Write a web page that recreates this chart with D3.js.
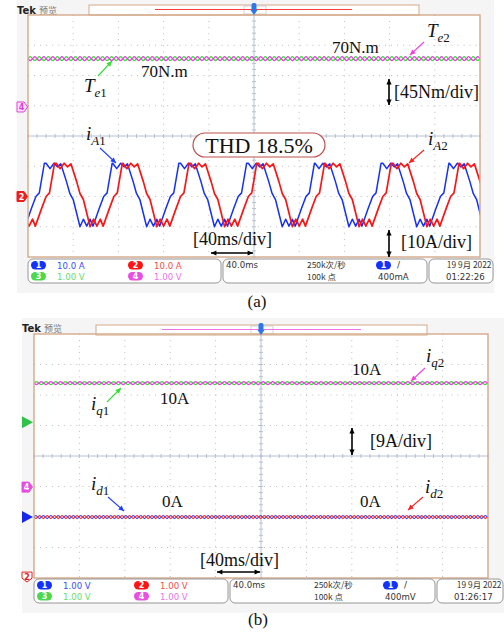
<html>
<head>
<meta charset="utf-8">
<title>示波器波形</title>
<script src="https://cdn.jsdelivr.net/npm/d3@7"></script>
<style>
  body { margin: 0; background: #fff; }
  text { font-family: "Liberation Serif", "Times New Roman", serif; }
  .ui { font-family: "DejaVu Sans", "Noto Sans CJK SC", sans-serif; }
  .cjk { font-family: "Noto Sans CJK SC", sans-serif; }
</style>
</head>
<body>
<div id="fig"></div>
<script>
// time base: 10 div x 40 ms, 8 vertical divisions
var timeSpan = [0, 400];
var divSpan = [-4, 4];

// (a) phase currents, one cycle [ms after the top starts, A]
var iaCycle = [[0, 11], [3.5, 9.2], [7, 11], [10, 9.8], [13, 10.8], [18, 5], [21, 1], [24, -1],
               [30, -10], [33, -7.5], [36, -9.8], [39, -7.5], [41.5, -9.8], [47, -4], [51, 0],
               [54, 1.2], [58.5, 11]];
var iA1Tops = [-44, 16, 75, 135, 195, 254, 314, 373];
var iA2Tops = [-35, 25, 84, 144, 204, 263, 323, 382];
var teValue = 70;               // N.m
var teRipple = [0, 3, 0, -3];   // N.m, one ripple cycle
var teRipplePeriod = 8;         // ms

// (b) dq currents
var iqValue = 10;
var idValue = 0;
var iqRipple = [0, 0.45, 0, -0.45];
var iqRipplePeriod = 8.5;
var idRipple = [0, 0.45, 0, -0.45];
var idRipplePeriod = 6.6;

var cBlue = "#1430ff", cRed = "#ff1414", cGreen = "#3cdc3c", cMag = "#ec3ee4";

var svg = d3.select("#fig").append("svg")
    .attr("width", 504).attr("height", 635);

function tile(cycle, tops) {
  var pts = [];
  tops.forEach(function (s) {
    cycle.forEach(function (p) { pts.push([s + p[0], p[1]]); });
  });
  return pts;
}
function ripple(level, shape, period, sign) {
  var pts = [];
  for (var t = -period; t <= timeSpan[1] + period; t += period) {
    shape.forEach(function (v, i) { pts.push([t + i * period / shape.length, level + sign * v]); });
  }
  return pts;
}

function pill(g, x, y, w, label, color) {
  g.append("rect").attr("x", x).attr("y", y).attr("width", w).attr("height", 8.5)
    .attr("rx", 4.2).attr("fill", color);
  g.append("text").attr("class", "ui").attr("x", x + w / 2).attr("y", y + 7.3)
    .attr("text-anchor", "middle").attr("font-size", 8).attr("font-weight", "bold")
    .attr("fill", "#fff").text(label);
}

function marker(g, m, x0) {
  var y = m.y;
  if (m.kind == "tri") {
    g.append("path").attr("d", "M" + x0 + "," + (y - 6) + "L" + (x0 + 11) + "," + y + "L" + x0 + "," + (y + 6) + "Z")
      .attr("fill", m.color);
  } else if (m.kind == "down") {
    g.append("path").attr("d", "M" + x0 + "," + (y - 5) + "h10v6l-5,4l-5,-4Z")
      .attr("fill", "#fff").attr("stroke", m.color).attr("stroke-width", 1);
    g.append("text").attr("class", "ui").attr("x", x0 + 5).attr("y", y + 3)
      .attr("text-anchor", "middle").attr("font-size", 8).attr("font-weight", "bold")
      .attr("fill", m.color).text(m.label);
  } else {
    g.append("path").attr("d", "M" + x0 + "," + (y - 5) + "h7l3.5,5l-3.5,5h-7Z")
      .attr("fill", m.kind == "outline" ? "#fde6fb" : m.color)
      .attr("stroke", m.color).attr("stroke-width", 1);
    g.append("text").attr("class", "ui").attr("x", x0 + 4.5).attr("y", y + 3)
      .attr("text-anchor", "middle").attr("font-size", 8).attr("font-weight", "bold")
      .attr("fill", m.kind == "outline" ? m.color : "#fff").text(m.label);
  }
}

function drawPanel(p) {
  var g = svg.append("g");
  g.append("rect").attr("x", p.bg[0]).attr("y", p.bg[1]).attr("width", p.bg[2]).attr("height", p.bg[3])
    .attr("fill", "#f6f5f6");

  var x = d3.scaleLinear().domain(timeSpan).range([p.left, p.right]);
  var y = d3.scaleLinear().domain(divSpan).range([p.bottom, p.top]);

  g.append("rect").attr("x", p.left).attr("y", p.top)
    .attr("width", p.right - p.left).attr("height", p.bottom - p.top).attr("fill", "#fff");

  // header
  g.append("text").attr("class", "ui").attr("x", p.bg[0]).attr("y", p.hdrY)
    .attr("font-size", 10).attr("font-weight", "bold").attr("fill", "#222").text("Tek");
  g.append("text").attr("class", "cjk").attr("x", p.bg[0] + 22).attr("y", p.hdrY)
    .attr("font-size", 9).attr("fill", "#777").text("预览");
  g.append("rect").attr("x", p.hdrBox[0]).attr("y", p.hdrBox[1]).attr("width", p.hdrBox[2] - p.hdrBox[0])
    .attr("height", 10).attr("fill", "#fff").attr("stroke", "#d4aa8a");
  var xc = x(200);
  g.append("rect").attr("x", xc - 10).attr("y", p.hdrBox[1] + 1).attr("width", 22).attr("height", 8)
    .attr("fill", "none").attr("stroke", "#b8b8b8").attr("stroke-width", 0.6);
  g.append("line").attr("x1", p.hdrLine[0]).attr("x2", p.hdrLine[1])
    .attr("y1", p.hdrBox[1] + 4.5).attr("y2", p.hdrBox[1] + 4.5)
    .attr("stroke", p.hdrColor).attr("stroke-width", 1.2);

  // grid
  var grid = g.append("g");
  d3.range(1, 10).forEach(function (k) {
    if (k == 5) return;
    grid.append("line").attr("x1", x(k * 40)).attr("x2", x(k * 40)).attr("y1", p.top).attr("y2", p.bottom)
      .attr("stroke", "#bcbcbc").attr("stroke-dasharray", "1,5.05");
  });
  d3.range(-3, 4).forEach(function (k) {
    if (k == 0) return;
    grid.append("line").attr("x1", p.left).attr("x2", p.right).attr("y1", y(k)).attr("y2", y(k))
      .attr("stroke", "#bcbcbc").attr("stroke-dasharray", "1,5.05");
  });
  grid.append("line").attr("x1", x(200)).attr("x2", x(200)).attr("y1", p.top).attr("y2", p.bottom)
    .attr("stroke", "#b8c0d0");
  grid.append("line").attr("x1", p.left).attr("x2", p.right).attr("y1", y(0)).attr("y2", y(0))
    .attr("stroke", "#b8c0d0");
  d3.range(0, 401, 8).forEach(function (t) {
    grid.append("line").attr("x1", x(t)).attr("x2", x(t)).attr("y1", y(0) - 2).attr("y2", y(0) + 2)
      .attr("stroke", "#b8c0d0");
  });
  d3.range(-4, 4.01, 0.2).forEach(function (d) {
    grid.append("line").attr("x1", x(200) - 2).attr("x2", x(200) + 2).attr("y1", y(d)).attr("y2", y(d))
      .attr("stroke", "#b8c0d0");
  });

  // traces
  var clipId = "clip" + p.name;
  g.append("clipPath").attr("id", clipId).append("rect")
    .attr("x", p.left).attr("y", p.top).attr("width", p.right - p.left).attr("height", p.bottom - p.top);
  var tr = g.append("g").attr("clip-path", "url(#" + clipId + ")");
  p.traces.forEach(function (s) {
    var line = d3.line()
      .x(function (d) { return x(d[0]); })
      .y(function (d) { return y(s.offset + d[1] / s.scale); })
      .curve(s.smooth ? d3.curveCardinal : d3.curveLinear);
    tr.append("path").datum(s.data).attr("d", line)
      .attr("fill", "none").attr("stroke", s.color).attr("stroke-width", s.width)
      .attr("stroke-linejoin", "round");
  });

  // frame
  g.append("rect").attr("x", p.left).attr("y", p.top)
    .attr("width", p.right - p.left).attr("height", p.bottom - p.top)
    .attr("fill", "none").attr("stroke", "#d4aa8a").attr("stroke-width", 1.4);

  // trigger position
  g.append("rect").attr("x", xc - 2.5).attr("y", p.hdrBox[1] - 2).attr("width", 5).attr("height", 8)
    .attr("rx", 2).attr("fill", "#2a78e8");
  g.append("path").attr("d", "M" + (xc - 3.5) + "," + (p.hdrBox[1] + 5) + "h7l-3.5,5z").attr("fill", "#2a78e8");

  p.markers.forEach(function (m) { marker(g, { kind: m.kind, label: m.label, color: m.color, y: y(m.div) }, p.bg[0]); });

  // status bar
  var sb = p.status;
  var boxes = [[p.left, sb.b1], [sb.b1 + 2, sb.b2], [sb.b2 + 2, sb.b3]];
  boxes.forEach(function (b) {
    g.append("rect").attr("x", b[0]).attr("y", sb.y).attr("width", b[1] - b[0]).attr("height", 24)
      .attr("rx", 5).attr("fill", "#fff").attr("stroke", "#8c8c8c").attr("stroke-width", 0.9);
  });
  var r1 = sb.y + 9, r2 = sb.y + 20;
  var chs = [[p.left + 3, r1 - 7, "1", cBlue, "#3b4cff", sb.v[0]], [p.left + 100, r1 - 7, "2", cRed, "#ff4848", sb.v[1]],
             [p.left + 3, r2 - 7, "3", "#4cd84c", "#66dd66", sb.v[2]], [p.left + 100, r2 - 7, "4", "#ea4ee2", "#ee70ea", sb.v[3]]];
  chs.forEach(function (c) {
    pill(g, c[0], c[1], 15, c[2], c[3]);
    g.append("text").attr("class", "ui").attr("x", c[0] + 26).attr("y", c[1] + 7.5)
      .attr("font-size", 8.6).attr("fill", c[4]).text(c[5]);
  });
  var x2 = sb.b1 + 2;
  g.append("text").attr("class", "ui").attr("x", x2 + 3).attr("y", r1).attr("font-size", 8.6).attr("fill", "#333").text("40.0ms");
  g.append("text").attr("class", "cjk").attr("x", x2 + 84).attr("y", r1).attr("font-size", 8.4).attr("fill", "#333").text("250k次/秒");
  g.append("text").attr("class", "cjk").attr("x", x2 + 84).attr("y", r2 + 0.5).attr("font-size", 8.4).attr("fill", "#333").text("100k 点");
  pill(g, x2 + 153, r1 - 7, 15, "1", cBlue);
  g.append("text").attr("class", "ui").attr("x", x2 + 174).attr("y", r1).attr("font-size", 9).attr("fill", "#333").text("/");
  g.append("text").attr("class", "ui").attr("x", x2 + 155).attr("y", r2 + 0.5).attr("font-size", 8.6).attr("fill", "#333").text(sb.trig);
  g.append("text").attr("class", "cjk").attr("x", sb.b3 - 1.5).attr("y", r1).attr("text-anchor", "end")
    .attr("font-size", 8.4).attr("fill", "#333").text(sb.date);
  g.append("text").attr("class", "ui").attr("x", sb.b2 + 19).attr("y", r2 + 0.5).attr("font-size", 8.6).attr("fill", "#333").text(sb.time);

  g.append("text").attr("x", p.capX).attr("y", p.capY).attr("text-anchor", "middle")
    .attr("font-size", 17).attr("fill", "#111").text(p.caption);
  return g;
}

function label(x0, y0, main, sub, num, size) {
  var t = svg.append("text").attr("x", x0).attr("y", y0).attr("font-size", size || 19).attr("fill", "#111");
  t.append("tspan").attr("font-style", "italic").text(main);
  t.append("tspan").attr("font-size", 13).attr("dy", 5).attr("font-style", "italic").text(sub);
  t.append("tspan").attr("font-size", 13).text(num);
}
function plain(x0, y0, s, size) {
  svg.append("text").attr("x", x0).attr("y", y0).attr("font-size", size || 17).attr("fill", "#111").text(s);
}
function arrow(x1, y1, x2, y2, color, both) {
  var ang = Math.atan2(y2 - y1, x2 - x1), L = 6, w = 0.45;
  function head(px, py, a) {
    svg.append("path").attr("d", "M" + px + "," + py +
      "L" + (px - L * Math.cos(a - w)) + "," + (py - L * Math.sin(a - w)) +
      "L" + (px - L * Math.cos(a + w)) + "," + (py - L * Math.sin(a + w)) + "Z").attr("fill", color);
  }
  svg.append("line").attr("x1", x1).attr("y1", y1).attr("x2", x2).attr("y2", y2)
    .attr("stroke", color).attr("stroke-width", both ? 1.6 : 1.1);
  head(x2, y2, ang);
  if (both) head(x1, y1, ang + Math.PI);
}

// panel (a)
drawPanel({
  name: "a", bg: [17, 0, 477, 293], left: 28, right: 480, top: 15, bottom: 257,
  hdrY: 14, hdrBox: [89, 5, 419], hdrLine: [155, 352], hdrColor: "#ff3a3a",
  traces: [
    { data: ripple(teValue, teRipple, teRipplePeriod, 1), offset: 1.0, scale: 45, color: cGreen, width: 1.3, smooth: true },
    { data: ripple(teValue, teRipple, teRipplePeriod, -1), offset: 1.0, scale: 45, color: cMag, width: 1.3, smooth: true },
    { data: tile(iaCycle, iA1Tops), offset: -2, scale: 10, color: cBlue, width: 1.5 },
    { data: tile(iaCycle, iA2Tops), offset: -2, scale: 10, color: cRed, width: 1.7 }
  ],
  markers: [{ kind: "outline", label: "4", color: "#e03cdc", div: 0.96 },
            { kind: "fill", label: "2", color: "#ee1c1c", div: -2 }],
  status: { y: 259, b1: 221, b2: 427, b3: 493, v: ["10.0 A", "10.0 A", "1.00 V", "1.00 V"],
            trig: "400mA", date: "19 9月 2022", time: "01:22:26" },
  caption: "(a)", capX: 257, capY: 307
});

// panel (b)
drawPanel({
  name: "b", bg: [22, 318, 482, 295], left: 34, right: 488, top: 334, bottom: 578,
  hdrY: 332, hdrBox: [96, 325, 427], hdrLine: [162, 361], hdrColor: "#f070e8",
  traces: [
    { data: ripple(iqValue, iqRipple, iqRipplePeriod, 1), offset: 1.28, scale: 9, color: cGreen, width: 1.3, smooth: true },
    { data: ripple(iqValue, iqRipple, iqRipplePeriod, -1), offset: 1.28, scale: 9, color: cMag, width: 1.3, smooth: true },
    { data: ripple(idValue, idRipple, idRipplePeriod, 1), offset: -2, scale: 9, color: "#3050ff", width: 1.2, smooth: true },
    { data: ripple(idValue, idRipple, idRipplePeriod, -1), offset: -2, scale: 9, color: "#ff3030", width: 1.2, smooth: true }
  ],
  markers: [{ kind: "tri", color: "#2ec24a", div: 1.11 },
            { kind: "fill", label: "4", color: "#e84ce0", div: -1.02 },
            { kind: "tri", color: "#1428ee", div: -2 },
            { kind: "down", label: "2", color: "#e02020", div: -3.97 }],
  status: { y: 579, b1: 228, b2: 435, b3: 503, v: ["1.00 V", "1.00 V", "1.00 V", "1.00 V"],
            trig: "400mV", date: "19 9月 2022", time: "01:26:17" },
  caption: "(b)", capX: 258, capY: 625
});

// annotations (a)
plain(141, 77, "70N.m");
plain(332, 53, "70N.m");
label(84, 92, "T", "e", "1");
arrow(98, 76, 112, 61, "#33dd33");
label(427, 37, "T", "e", "2");
arrow(424, 42, 410, 55, "#ee44dd");
arrow(389, 79, 389, 105, "#000", true);
plain(394, 98, "[45Nm/div]", 18);
label(86, 140, "i", "A", "1");
arrow(100, 148, 116, 163, "#2040ff");
label(428, 145, "i", "A", "2");
arrow(424, 150, 409, 163, "#ff2020");
svg.append("rect").attr("x", 193).attr("y", 133).attr("width", 132).attr("height", 24).attr("rx", 12)
  .attr("fill", "#fff").attr("stroke", "#c0504d").attr("stroke-width", 1.2);
svg.append("text").attr("x", 259).attr("y", 153).attr("text-anchor", "middle").attr("font-size", 22)
  .attr("fill", "#111").text("THD 18.5%");
plain(193, 245, "[40ms/div]", 18);
arrow(211, 253, 253, 253, "#000", true);
arrow(389, 230, 389, 257, "#000", true);
plain(401, 248, "[10A/div]", 18);

// annotations (b)
plain(352, 375, "10A");
plain(160, 404, "10A");
label(91, 410, "i", "q", "1");
arrow(107, 402, 121, 388, "#33dd33");
label(426, 362, "i", "q", "2");
arrow(425, 368, 411, 381, "#ee44dd");
arrow(352, 428, 352, 455, "#000", true);
plain(370, 447, "[9A/div]", 18);
label(91, 490, "i", "d", "1");
arrow(108, 497, 124, 511, "#2040ff");
plain(162, 507, "0A");
plain(360, 507, "0A");
label(425, 493, "i", "d", "2");
arrow(423, 497, 408, 510, "#ff2020");
plain(200, 566, "[40ms/div]", 18);
arrow(217, 572, 260, 572, "#000", true);
</script>
</body>
</html>
